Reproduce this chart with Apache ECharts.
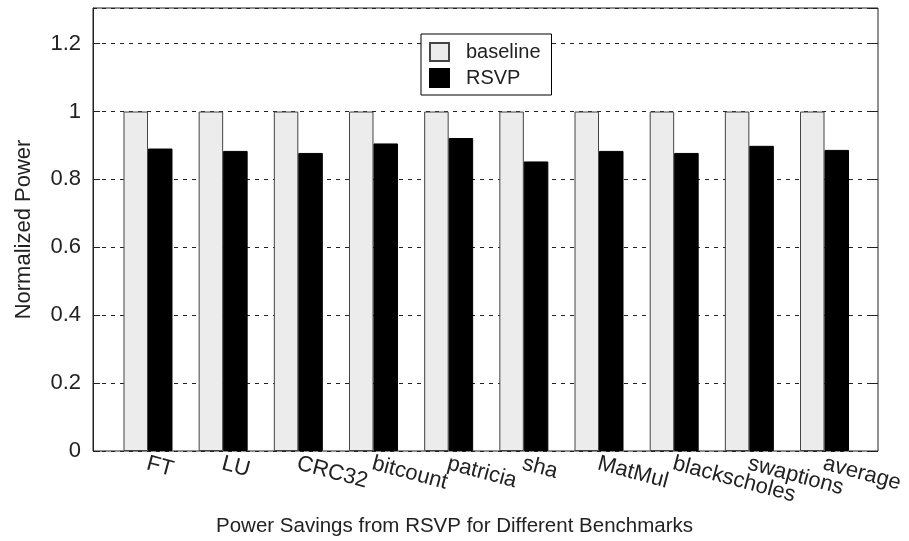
<!DOCTYPE html>
<html>
<head>
<meta charset="utf-8">
<script src="https://cdn.jsdelivr.net/npm/echarts@6/dist/echarts.min.js"></script>
<style>html,body{margin:0;padding:0;background:#fff}#c{width:909px;height:541px}</style>
</head>
<body>
<div id="c"></div>
<script>
const categories = ['FT','LU','CRC32','bitcount','patricia','sha','MatMul','blackscholes','swaptions','average'];
const baseline = [1,1,1,1,1,1,1,1,1,1];
const rsvp = [0.891,0.884,0.878,0.906,0.922,0.853,0.884,0.878,0.899,0.887];
const seriesNames = ['baseline','RSVP'];
const yMin = 0, yMax = 1.305, yStep = 0.2;
const xTitle = 'Power Savings from RSVP for Different Benchmarks';
const yTitle = 'Normalized Power';

const FONT = 'Liberation Sans, Arial, sans-serif';
const chart = echarts.init(document.getElementById('c'), null, {renderer:'canvas'});
chart.setOption({
  animation:false,
  backgroundColor:'#fff',
  textStyle:{fontFamily:FONT},
  title:{text:xTitle,left:'center',top:511,textStyle:{fontSize:20.5,fontWeight:'normal',color:'#222',fontFamily:FONT}},
  legend:{
    orient:'vertical',left:421,top:34,data:seriesNames,icon:'rect',
    itemWidth:19,itemHeight:18,itemGap:6,
    borderColor:'#000',borderWidth:1,backgroundColor:'#fff',
    padding:[8,11,7,8],
    textStyle:{fontSize:20,color:'#222',padding:[0,0,0,12],fontFamily:FONT}
  },
  grid:[
    {left:93,right:31,top:8,bottom:90,show:true,borderColor:'#222',borderWidth:1,backgroundColor:'transparent'},
    {left:110.4,right:46.9,top:8,bottom:90}
  ],
  xAxis:[
    {gridIndex:0,type:'value',min:0,max:1,show:false},
    {gridIndex:1,type:'category',data:categories,
     axisLine:{show:false},axisTick:{show:false},
     axisLabel:{rotate:-15,fontSize:22,color:'#222',margin:1,interval:0,align:'left',verticalAlign:'top',padding:[0,0,0,2],fontFamily:FONT}}
  ],
  yAxis:[
    {gridIndex:0,type:'value',min:yMin,max:yMax,interval:yStep,
     name:yTitle,nameLocation:'middle',nameGap:58,
     nameTextStyle:{fontSize:22,color:'#222',fontFamily:FONT},
     axisLine:{show:true,lineStyle:{color:'#222'}},
     axisTick:{show:true,inside:true,length:7,lineStyle:{color:'#222'}},
     axisLabel:{fontSize:22,color:'#222',margin:12,showMaxLabel:false,fontFamily:FONT},
     splitLine:{show:true,lineStyle:{color:'#222',type:[4,5],width:1}}},
    {gridIndex:0,type:'value',min:yMin,max:yMax,interval:yStep,position:'right',
     axisLine:{show:false},
     axisTick:{show:true,inside:true,length:7,lineStyle:{color:'#222'}},
     axisLabel:{show:false},splitLine:{show:false}},
    {gridIndex:1,type:'value',min:yMin,max:yMax,show:false}
  ],
  series:[
    {name:seriesNames[0],type:'bar',xAxisIndex:1,yAxisIndex:2,data:baseline,
     barWidth:24.5,barGap:'0%',
     itemStyle:{color:'#ececec',borderColor:'#444',borderWidth:1}},
    {name:seriesNames[1],type:'bar',xAxisIndex:1,yAxisIndex:2,data:rsvp,
     barWidth:24.5,barGap:'0%',
     itemStyle:{color:'#000',borderColor:'#000',borderWidth:1}}
  ]
});
</script>
</body>
</html>
